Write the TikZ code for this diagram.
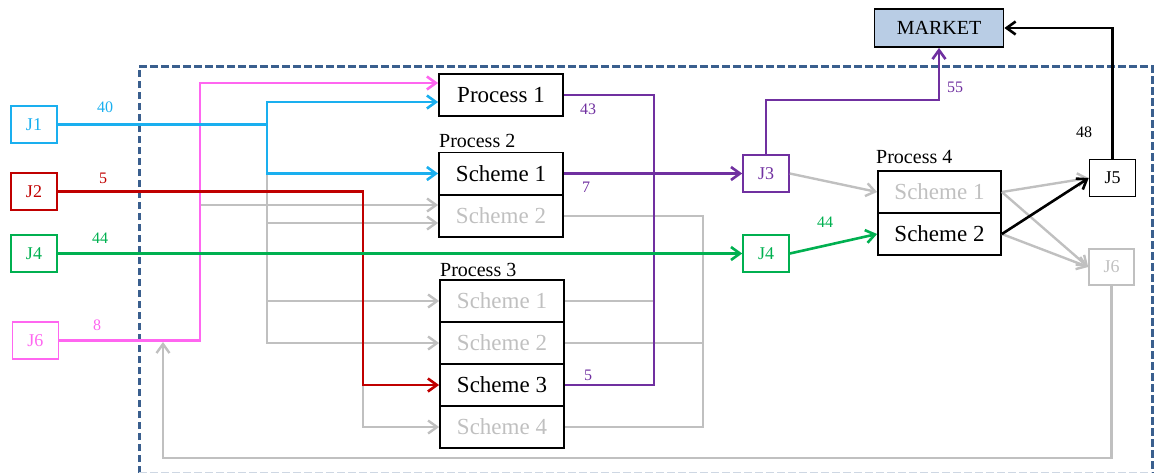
\documentclass[tikz,border=0pt]{standalone}
\usepackage{fontspec}
\setmainfont{Liberation Serif}
\usetikzlibrary{arrows.meta}
\definecolor{cblue}{HTML}{1AAFEF}
\definecolor{cred}{HTML}{C00000}
\definecolor{cgreen}{HTML}{00B050}
\definecolor{cpink}{HTML}{FF66F0}
\definecolor{cpurple}{HTML}{7030A0}
\definecolor{cgray}{HTML}{C0C0C0}
\definecolor{cframe}{HTML}{3A5F8E}
\definecolor{cmarket}{HTML}{B9CDE5}
\begin{document}
\begin{tikzpicture}[x=1pt,y=-1pt,
  jbox/.style={draw, line width=1.6pt, minimum width=46pt, minimum height=37pt, inner sep=0pt, font=\fontsize{18}{18}\selectfont},
  pbox/.style={draw=black, line width=1.8pt, minimum width=124pt, minimum height=42pt, inner sep=0pt, font=\fontsize{23}{23}\selectfont},
  greytext/.style={text=cgray},
  numlbl/.style={font=\fontsize{16}{16}\selectfont, inner sep=0pt},
  plbl/.style={font=\fontsize{20}{20}\selectfont, inner sep=0pt, anchor=base west},
  cline/.style={line width=2.6pt},
  gline/.style={line width=2.4pt, draw=cgray},
  arr/.style={-{Straight Barb[length=9pt,width=13pt]}}]
\useasboundingbox (0,0) rectangle (1155,472);

% system boundary
\draw[cframe, line width=3pt, dash pattern=on 7.5pt off 3.5pt] (139,473) -- (139,66) -- (1152,66) -- (1152,473);
\draw[cframe!25, line width=3pt, dash pattern=on 7.5pt off 3.5pt] (139,473) -- (1152,473);

% inputs
\node[jbox, draw=cblue, text=cblue] (J1l) at (34,124.5) {J1};
\node[jbox, draw=cred, text=cred] (J2l) at (34,191.5) {J2};
\node[jbox, draw=cgreen, text=cgreen] (J4l) at (34,253.5) {J4};
\node[jbox, draw=cpink, text=cpink] (J6l) at (35.5,340.5) {J6};

% processes
\node[pbox] (P1) at (501,95) {Process 1};
\node[pbox] (S21) at (501,173.5) {Scheme 1};
\node[pbox, greytext] (S22) at (501,216) {Scheme 2};
\node[plbl] (L2) at (439,147) {Process 2};
\node[pbox, greytext] (S31) at (502,301) {Scheme 1};
\node[pbox, greytext] (S32) at (502,343) {Scheme 2};
\node[pbox] (S33) at (502,385) {Scheme 3};
\node[pbox, greytext] (S34) at (502,427) {Scheme 4};
\node[plbl] (L3) at (440,276) {Process 3};
\node[pbox, greytext, minimum width=123pt] (P41) at (939.5,192) {Scheme 1};
\node[pbox, minimum width=123pt] (P42) at (939.5,234) {Scheme 2};
\node[plbl] (L4) at (876,163) {Process 4};

% junctions and market
\node[jbox, draw=cpurple, text=cpurple] (J3) at (766,173.5) {J3};
\node[jbox, draw=cgreen, text=cgreen] (J4r) at (766,253.5) {J4};
\node[jbox, draw=black, text=black] (J5) at (1112.5,178) {J5};
\node[jbox, draw=cgray, text=cgray, minimum width=45pt, minimum height=36pt] (J6r) at (1111.5,267) {J6};
\node[draw=black, fill=cmarket, line width=1.8pt, minimum width=129pt, minimum height=38pt, inner sep=0pt, font=\fontsize{20}{20}\selectfont] (MARKET) at (939,28) {MARKET};

\coordinate (bsplit) at (267,124.5);
\coordinate (ret) at (163,342);

% inactive streams
\draw[gline, arr] (200,205) -- ([yshift=11pt]S22.west);
\draw[gline, arr] (267,173.5) |- (S32.west);
\draw[gline, arr] (267,223) -- ([yshift=-7pt]S22.west);
\draw[gline, arr] (267,301) -- (S31.west);
\draw[gline, arr] (363,385) |- (S34.west);
\draw[gline] (S22.east) -| (703,427) -- (S34.east);
\draw[gline] (S32.east) -- (703,343);
\draw[gline] (S31.east) -- (654,301);
\draw[gline, arr] (J3.east) -- (P41.west);
\draw[gline, arr] (P41.east) -- (J5.west);
\draw[gline, arr] (P41.east) -- (J6r.west);
\draw[gline, arr] (P42.east) -- (J6r.west);
\draw[gline, arr] (J6r.south) |- (163,458) -- (ret);

% active streams
\draw[cline, cpink, arr] (J6l.east) -- (200,340.5) -- (200,83) -- ([yshift=12pt]P1.west);
\draw[cline, cblue] (J1l.east) -- (bsplit);
\draw[cline, cblue, arr] (bsplit) |- ([yshift=-7pt]P1.west);
\draw[cline, cblue, arr] (bsplit) |- (S21.west);
\draw[cline, cpurple] (P1.east) -| (654,385) -- (S33.east);
\draw[cline, cpurple, arr] (S21.east) -- (J3.west);
\draw[cline, cpurple, arr] (J3.north) |- (939,100) -- (MARKET.south);
\draw[cline, cred, arr] (J2l.east) -- (363,191.5) |- (S33.west);
\draw[cline, cgreen, arr] (J4l.east) -- (J4r.west);
\draw[cline, cgreen, arr] (J4r.east) -- (P42.west);
\draw[cline, black, arr] (P42.east) -- (J5.west);
\draw[cline, black, arr] (J5.north) |- (MARKET.east);

% flow values
\node[numlbl, text=cblue] (n40) at (105,107) {40};
\node[numlbl, text=cred] (n5a) at (103,178) {5};
\node[numlbl, text=cgreen] (n44a) at (100,238) {44};
\node[numlbl, text=cpink] (n8) at (97,325) {8};
\node[numlbl, text=cpurple] (n43) at (588,109) {43};
\node[numlbl, text=cpurple] (n7) at (586,187) {7};
\node[numlbl, text=cpurple] (n5b) at (588,375) {5};
\node[numlbl, text=cpurple] (n55) at (955,87) {55};
\node[numlbl, text=cgreen] (n44b) at (825,222) {44};
\node[numlbl, text=black] (n48) at (1084,132) {48};
\end{tikzpicture}
\end{document}
